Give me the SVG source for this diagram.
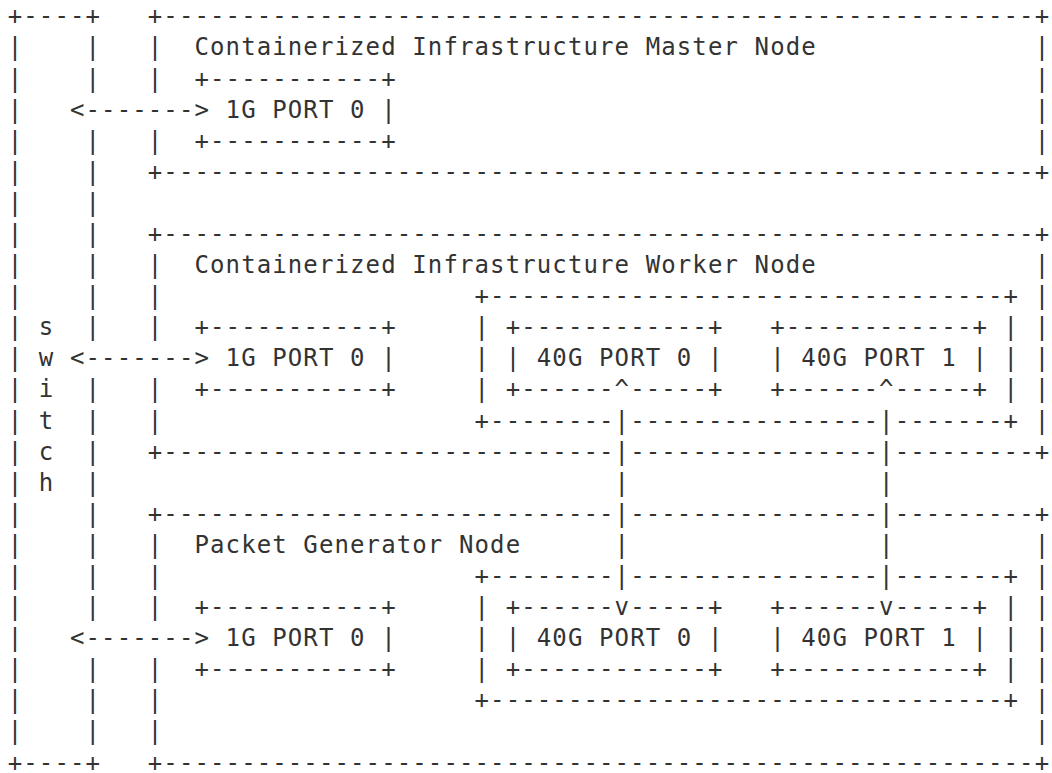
<svg xmlns="http://www.w3.org/2000/svg" width="1052" height="773" viewBox="0 0 1052 773">
  <style>
    /* every glyph sits on a 15.56 px column grid and a 31.09 px row grid */
    .t { font-family: "DejaVu Sans Mono", "Liberation Mono", monospace; font-size: 24px; letter-spacing: 1.11px; fill: #333333; white-space: pre; }
  </style>
  <rect width="1052" height="773" fill="#ffffff"/>

  <!-- switch -->
  <g id="switch">
    <text class="t" x="7.75" y="24.4">+----+</text>
    <text class="t">
      <tspan x="7.75" y="55.49">|</tspan><tspan x="7.75" y="86.58">|</tspan><tspan x="7.75" y="117.67">|</tspan><tspan x="7.75" y="148.76">|</tspan><tspan x="7.75" y="179.85">|</tspan><tspan x="7.75" y="210.94">|</tspan><tspan x="7.75" y="242.03">|</tspan><tspan x="7.75" y="273.12">|</tspan><tspan x="7.75" y="304.21">|</tspan><tspan x="7.75" y="335.3">|</tspan><tspan x="7.75" y="366.39">|</tspan><tspan x="7.75" y="397.48">|</tspan><tspan x="7.75" y="428.57">|</tspan><tspan x="7.75" y="459.66">|</tspan><tspan x="7.75" y="490.75">|</tspan><tspan x="7.75" y="521.84">|</tspan><tspan x="7.75" y="552.93">|</tspan><tspan x="7.75" y="584.02">|</tspan><tspan x="7.75" y="615.11">|</tspan><tspan x="7.75" y="646.2">|</tspan><tspan x="7.75" y="677.29">|</tspan><tspan x="7.75" y="708.38">|</tspan><tspan x="7.75" y="739.47">|</tspan>
    </text>
    <text class="t">
      <tspan x="85.55" y="55.49">|</tspan><tspan x="85.55" y="86.58">|</tspan><tspan x="85.55" y="148.76">|</tspan><tspan x="85.55" y="179.85">|</tspan><tspan x="85.55" y="210.94">|</tspan><tspan x="85.55" y="242.03">|</tspan><tspan x="85.55" y="273.12">|</tspan><tspan x="85.55" y="304.21">|</tspan><tspan x="85.55" y="335.3">|</tspan><tspan x="85.55" y="397.48">|</tspan><tspan x="85.55" y="428.57">|</tspan><tspan x="85.55" y="459.66">|</tspan><tspan x="85.55" y="490.75">|</tspan><tspan x="85.55" y="521.84">|</tspan><tspan x="85.55" y="552.93">|</tspan><tspan x="85.55" y="584.02">|</tspan><tspan x="85.55" y="615.11">|</tspan><tspan x="85.55" y="677.29">|</tspan><tspan x="85.55" y="708.38">|</tspan><tspan x="85.55" y="739.47">|</tspan>
    </text>
    <text class="t">
      <tspan x="38.87" y="335.3">s</tspan><tspan x="38.87" y="366.39">w</tspan><tspan x="38.87" y="397.48">i</tspan><tspan x="38.87" y="428.57">t</tspan><tspan x="38.87" y="459.66">c</tspan><tspan x="38.87" y="490.75">h</tspan>
    </text>
    <text class="t" x="7.75" y="770.56">+----+</text>
  </g>

  <!-- containerized infrastructure master node -->
  <g id="master-node">
    <text class="t" x="147.79" y="24.4">+--------------------------------------------------------+</text>
    <text class="t" x="147.79" y="55.49">|  Containerized Infrastructure Master Node</text>
    <text class="t">
      <tspan x="147.79" y="86.58">|</tspan><tspan x="147.79" y="148.76">|</tspan>
      <tspan x="1034.71" y="55.49">|</tspan><tspan x="1034.71" y="86.58">|</tspan><tspan x="1034.71" y="117.67">|</tspan><tspan x="1034.71" y="148.76">|</tspan>
    </text>
    <text class="t" x="147.79" y="179.85">+--------------------------------------------------------+</text>
  </g>
  <g id="master-1g-port">
    <text class="t" x="194.47" y="86.58">+-----------+</text>
    <text class="t" x="225.59" y="117.67">1G PORT 0 |</text>
    <text class="t" x="194.47" y="148.76">+-----------+</text>
  </g>

  <!-- containerized infrastructure worker node -->
  <g id="worker-node">
    <text class="t" x="147.79" y="242.03">+--------------------------------------------------------+</text>
    <text class="t" x="147.79" y="273.12">|  Containerized Infrastructure Worker Node</text>
    <text class="t">
      <tspan x="147.79" y="304.21">|</tspan><tspan x="147.79" y="335.3">|</tspan><tspan x="147.79" y="397.48">|</tspan><tspan x="147.79" y="428.57">|</tspan>
      <tspan x="1034.71" y="273.12">|</tspan><tspan x="1034.71" y="304.21">|</tspan><tspan x="1034.71" y="335.3">|</tspan><tspan x="1034.71" y="366.39">|</tspan><tspan x="1034.71" y="397.48">|</tspan><tspan x="1034.71" y="428.57">|</tspan>
    </text>
    <text class="t" x="147.79" y="459.66">+-----------------------------</text>
    <text class="t" x="630.15" y="459.66">----------------</text>
    <text class="t" x="894.67" y="459.66">---------+</text>
  </g>
  <g id="worker-1g-port">
    <text class="t" x="194.47" y="335.3">+-----------+</text>
    <text class="t" x="225.59" y="366.39">1G PORT 0 |</text>
    <text class="t" x="194.47" y="397.48">+-----------+</text>
  </g>
  <g id="worker-nic">
    <text class="t" x="474.55" y="304.21">+---------------------------------+</text>
    <text class="t">
      <tspan x="474.55" y="335.3">|</tspan><tspan x="474.55" y="366.39">|</tspan><tspan x="474.55" y="397.48">|</tspan>
      <tspan x="1003.59" y="335.3">|</tspan><tspan x="1003.59" y="366.39">|</tspan><tspan x="1003.59" y="397.48">|</tspan>
    </text>
    <text class="t" x="474.55" y="428.57">+--------</text>
    <text class="t" x="630.15" y="428.57">----------------</text>
    <text class="t" x="894.67" y="428.57">-------+</text>
  </g>
  <g id="worker-40g-port-0">
    <text class="t" x="505.67" y="335.3">+------------+</text>
    <text class="t" x="505.67" y="366.39">| 40G PORT 0 |</text>
    <text class="t" x="505.67" y="397.48">+------</text>
    <text class="t" x="630.15" y="397.48">-----+</text>
  </g>
  <g id="worker-40g-port-1">
    <text class="t" x="770.19" y="335.3">+------------+</text>
    <text class="t" x="770.19" y="366.39">| 40G PORT 1 |</text>
    <text class="t" x="770.19" y="397.48">+------</text>
    <text class="t" x="894.67" y="397.48">-----+</text>
  </g>

  <!-- packet generator node -->
  <g id="packet-generator-node">
    <text class="t" x="147.79" y="521.84">+-----------------------------</text>
    <text class="t" x="630.15" y="521.84">----------------</text>
    <text class="t" x="894.67" y="521.84">---------+</text>
    <text class="t" x="147.79" y="552.93">|  Packet Generator Node</text>
    <text class="t">
      <tspan x="147.79" y="584.02">|</tspan><tspan x="147.79" y="615.11">|</tspan><tspan x="147.79" y="677.29">|</tspan><tspan x="147.79" y="708.38">|</tspan><tspan x="147.79" y="739.47">|</tspan>
      <tspan x="1034.71" y="552.93">|</tspan><tspan x="1034.71" y="584.02">|</tspan><tspan x="1034.71" y="615.11">|</tspan><tspan x="1034.71" y="646.2">|</tspan><tspan x="1034.71" y="677.29">|</tspan><tspan x="1034.71" y="708.38">|</tspan><tspan x="1034.71" y="739.47">|</tspan>
    </text>
    <text class="t" x="147.79" y="770.56">+--------------------------------------------------------+</text>
  </g>
  <g id="packet-generator-1g-port">
    <text class="t" x="194.47" y="615.11">+-----------+</text>
    <text class="t" x="225.59" y="646.2">1G PORT 0 |</text>
    <text class="t" x="194.47" y="677.29">+-----------+</text>
  </g>
  <g id="packet-generator-nic">
    <text class="t" x="474.55" y="584.02">+--------</text>
    <text class="t" x="630.15" y="584.02">----------------</text>
    <text class="t" x="894.67" y="584.02">-------+</text>
    <text class="t">
      <tspan x="474.55" y="615.11">|</tspan><tspan x="474.55" y="646.2">|</tspan><tspan x="474.55" y="677.29">|</tspan>
      <tspan x="1003.59" y="615.11">|</tspan><tspan x="1003.59" y="646.2">|</tspan><tspan x="1003.59" y="677.29">|</tspan>
    </text>
    <text class="t" x="474.55" y="708.38">+---------------------------------+</text>
  </g>
  <g id="packet-generator-40g-port-0">
    <text class="t" x="505.67" y="615.11">+------</text>
    <text class="t" x="630.15" y="615.11">-----+</text>
    <text class="t" x="505.67" y="646.2">| 40G PORT 0 |</text>
    <text class="t" x="505.67" y="677.29">+------------+</text>
  </g>
  <g id="packet-generator-40g-port-1">
    <text class="t" x="770.19" y="615.11">+------</text>
    <text class="t" x="894.67" y="615.11">-----+</text>
    <text class="t" x="770.19" y="646.2">| 40G PORT 1 |</text>
    <text class="t" x="770.19" y="677.29">+------------+</text>
  </g>

  <!-- management links to the switch and 40G data links -->
  <g id="connectors">
    <text class="t" x="69.99" y="117.67">&lt;-------&gt;</text>
    <text class="t" x="69.99" y="366.39">&lt;-------&gt;</text>
    <text class="t" x="69.99" y="646.2">&lt;-------&gt;</text>
    <text class="t">
      <tspan x="614.59" y="397.48">^</tspan><tspan x="614.59" y="428.57">|</tspan><tspan x="614.59" y="459.66">|</tspan><tspan x="614.59" y="490.75">|</tspan><tspan x="614.59" y="521.84">|</tspan><tspan x="614.59" y="552.93">|</tspan><tspan x="614.59" y="584.02">|</tspan><tspan x="614.59" y="615.11">v</tspan>
    </text>
    <text class="t">
      <tspan x="879.11" y="397.48">^</tspan><tspan x="879.11" y="428.57">|</tspan><tspan x="879.11" y="459.66">|</tspan><tspan x="879.11" y="490.75">|</tspan><tspan x="879.11" y="521.84">|</tspan><tspan x="879.11" y="552.93">|</tspan><tspan x="879.11" y="584.02">|</tspan><tspan x="879.11" y="615.11">v</tspan>
    </text>
  </g>
</svg>
